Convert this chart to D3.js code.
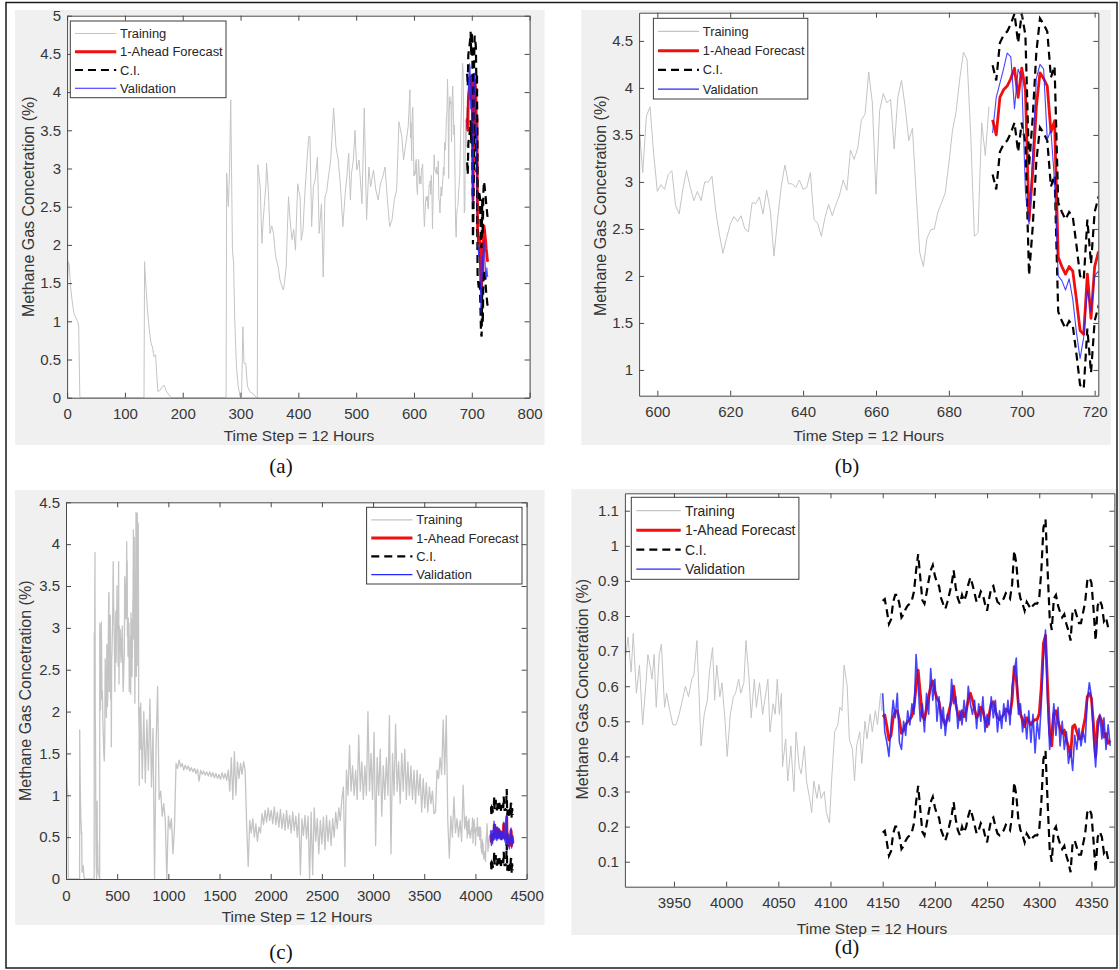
<!DOCTYPE html>
<html>
<head>
<meta charset="utf-8">
<script src="https://cdn.jsdelivr.net/npm/d3@7"></script>
<style>
  body { margin: 0; background: #ffffff; }
  svg { display: block; }
</style>
</head>
<body>
<svg id="chart" width="1119" height="970"></svg>
<script>
// ===================== DATA =====================
const legendLabels = ["Training", "1-Ahead Forecast", "C.I.", "Validation"];
const captions = ["(a)", "(b)", "(c)", "(d)"];
const xLabel = "Time Step = 12 Hours";
const yLabel = "Methane Gas Concetration (%)";

// Training, time steps 0-594 (step, value)
const trainEarlyPts = [[0,1.4],[2,1.78],[4,1.72],[6,1.45],[9,1.25],[12,1.1],[15,1.05],[18,1.0],[20,0.95],[22,0.02],[23,0],
[133,0],[134,1.78],[136,1.5],[139,1.15],[142,0.9],[145,0.72],[148,0.65],[150,0.54],[153,0.56],[157,0.08],[161,0.1],[165,0.15],[168,0.16],[172,0.08],[178,0.02],[180,0],
[275,0],[276,2.94],[278,2.6],[279,2.5],[281,3.0],[283,3.9],[285,2.6],[286,1.93],[288,1.76],[290,1.0],[293,0.4],[296,0.15],[299,0.02],[300,0],[302,0.1],[304,0.93],[306,0.45],[309,0.45],[312,0.15],[316,0.08],[322,0.05],[328,0],[329,0],
[330,3.05],[332,2.9],[334,2.76],[337,2.02],[339,2.3],[341,2.5],[344,2.8],[345,3.07],[348,2.72],[351,2.15],[354,2.25],[357,2.15],[360,1.9],[362,1.8],[364,1.75],[366,1.67],[368,1.55],[370,1.5],[372,1.45],[374,1.41],[376,1.5],[379,1.72],[381,2.2],[383,2.63],[386,2.3],[389,2.07],[392,2.2],[395,1.93],[397,2.4],[399,2.8],
[401,2.7],[403,2.63],[405,2.06],[408,2.19],[410,2.5],[412,2.76],[415,3.1],[418,3.42],[420,3.42],[423,2.24],[426,2.76],[429,2.85],[433,3.15],[436,2.15],[440,2.54],[443,1.58],[446,2.63],[449,2.7],[452,2.89],[456,3.11],[461,3.79],[465,3.29],[469,3.11],[473,2.76],[477,2.24],[481,2.67],[484,2.9],[487,3.2],[490,2.59],[492,2.94],[495,3.1],[498,3.5],
[501,2.98],[505,3.11],[510,2.54],[514,3.79],[518,2.33],[522,3.02],[525,2.76],[530,2.98],[534,2.72],[538,2.59],[542,2.8],[546,2.89],[550,3.02],[554,2.59],[558,2.24],[562,2.33],[566,2.59],[570,2.72],[574,3.61],[579,3.42],[582,3.11],[586,3.33],[590,3.55],[593,4.03],[594,3.4]];

// Training, one value per time step from 595 to 691
const trainLateStart = 595;
const trainLate = [3.6,3.1,3.7,3.8,3.3,2.9,2.97,2.92,3.08,3.12,
2.75,2.66,2.92,3.12,2.95,2.8,2.9,2.8,3.0,3.0,
3.06,2.7,2.45,2.24,2.4,2.55,2.63,2.58,2.64,2.5,
2.47,2.78,2.77,2.84,2.66,2.91,2.7,2.21,2.6,2.95,
3.18,2.98,2.98,2.94,3.02,2.92,2.94,3.1,2.6,2.56,
2.42,2.62,2.76,2.64,2.76,2.86,3.02,2.91,3.34,3.24,
3.36,3.66,3.72,4.17,3.84,2.87,3.76,3.94,3.84,3.88,
3.35,3.9,4.08,3.8,3.44,3.57,2.9,2.25,2.1,2.4,
2.49,2.5,2.68,2.78,2.88,3.2,3.55,3.75,4.1,4.38,
4.3,3.5,2.42,2.46,3.63,3.28,3.8];

// First forecast horizon (steps 692-728, one per step)
const fcAStart = 692;
const forecastA = [3.66,3.5,3.9,3.98,4.02,4.1,4.21,3.9,4.21,3.98,2.59,3.1,3.8,4.16,4.1,4.02,3.53,3.65,2.2,2.1,2.02,2.1,2.05,1.75,1.42,1.38,2.02,1.55,2.1,2.25,2.2,2.12,2.05,1.95,1.88,1.8,1.78];
const ciUpperA = [4.24,4.08,4.48,4.56,4.6,4.68,4.79,4.48,4.79,4.56,3.17,3.68,4.38,4.74,4.68,4.6,4.11,4.23,2.78,2.68,2.6,2.68,2.63,2.33,2.0,1.96,2.6,2.13,2.68,2.83,2.78,2.7,2.63,2.53,2.46,2.38,2.36];
const ciLowerA = [3.08,2.92,3.32,3.4,3.44,3.52,3.63,3.32,3.63,3.4,2.01,2.52,3.22,3.58,3.52,3.44,2.95,3.07,1.62,1.52,1.44,1.52,1.47,1.17,0.84,0.8,1.44,0.97,1.52,1.67,1.62,1.54,1.47,1.37,1.3,1.22,1.2];
const validationA = [3.52,3.9,4.05,4.2,4.37,4.33,3.78,4.2,4.1,2.9,2.55,3.3,4.1,4.25,4.2,3.45,3.55,3.0,2.0,1.95,1.85,1.97,1.75,1.4,1.12,1.35,1.85,1.62,2.0,2.05,1.95,1.75,1.62,1.55,1.7,1.6,1.58];

// Long training record, sampled every 15 steps from 730 to 3895
const trainMidStart = 730;
const trainMidStep = 15;
const trainMid = [2.1,1.2,2.0,1.15,1.9,1.3,2.15,1.1,1.8,0.0,1.6,2.3,0.95,1.05,0.75,0.9,0.7,0.0,0.75,0.6,0.72,0.3,0.62,
1.38,1.32,1.42,1.34,1.38,1.3,1.36,1.31,1.35,1.29,1.33,1.28,1.32,1.26,1.31,1.17,1.3,1.25,1.29,1.24,1.28,1.23,1.28,1.22,1.27,1.21,1.26,1.2,1.25,1.19,1.27,1.2,1.26,1.18,1.3,1.05,1.45,0.95,1.52,1.0,1.4,1.2,1.38,1.25,1.4,1.3,
0.65,0.15,0.7,0.55,0.72,0.5,0.66,0.45,0.62,0.55,0.78,0.65,0.82,0.68,0.85,0.7,0.82,0.66,0.86,0.65,0.8,0.62,0.83,0.6,0.78,0.58,0.82,0.6,0.76,0.55,0.8,0.58,0.75,0.5,0.78,0.05,0.72,0.52,0.76,0.48,0.75,0.0,0.8,0.05,0.85,0.45,0.72,0.3,0.7,0.42,0.74,0.35,0.76,0.45,0.7,0.4,0.72,0.5,0.8,0.6,0.85,0.7,
0.95,1.1,0.15,1.3,1.0,1.6,1.05,1.35,1.0,1.3,0.95,1.72,1.05,1.4,0.95,1.35,1.0,2.0,1.05,1.5,0.95,1.75,0.4,1.45,1.0,1.55,0.75,1.35,0.95,1.45,1.0,1.95,0.3,1.5,1.0,1.85,1.05,1.4,0.9,1.5,1.05,1.55,0.95,1.4,1.0,1.35,0.95,1.3,0.9,1.3,1.0,1.25,0.8,1.2,0.85,1.15,0.8,1.1,0.9,1.05,0.78,0.8,
1.3,1.2,1.45,1.25,1.9,1.25,1.95,0.7,0.25,0.75,0.5,0.98,0.55,0.72,0.5,0.7,0.45,1.12,0.6];

// Training, steps 3904-4149 (step, value)
const trainDPts = [[3904,0.69],[3906,0.74],[3909,0.64],[3911,0.75],[3914,0.58],[3917,0.66],[3920,0.49],[3923,0.6],[3925,0.69],[3927,0.66],[3929,0.62],[3931,0.69],[3933,0.54],[3936,0.69],[3938,0.72],[3941,0.54],[3943,0.58],[3946,0.53],[3949,0.49],[3952,0.49],[3955,0.52],[3958,0.56],[3961,0.6],[3964,0.57],[3967,0.62],[3969,0.63],[3972,0.73],[3974,0.58],[3976,0.43],[3979,0.52],[3982,0.56],[3984,0.64],[3987,0.71],[3989,0.56],[3991,0.66],[3994,0.57],[3996,0.61],[3999,0.5],
[4001,0.4],[4004,0.52],[4007,0.57],[4009,0.58],[4012,0.62],[4014,0.58],[4017,0.61],[4019,0.73],[4022,0.62],[4024,0.51],[4027,0.62],[4029,0.54],[4032,0.61],[4035,0.52],[4037,0.56],[4040,0.62],[4042,0.47],[4045,0.55],[4047,0.52],[4049,0.62],[4051,0.52],[4053,0.58],[4054,0.37],[4057,0.45],[4059,0.33],[4062,0.43],[4065,0.3],[4067,0.47],[4070,0.37],[4072,0.35],[4075,0.43],[4077,0.33],[4080,0.28],[4082,0.24],[4084,0.33],[4087,0.28],[4089,0.32],[4091,0.28],[4094,0.3],[4096,0.24],[4099,0.21],
[4101,0.33],[4104,0.47],[4107,0.49],[4109,0.54],[4111,0.53],[4113,0.66],[4116,0.6],[4118,0.45],[4121,0.42],[4123,0.33],[4125,0.43],[4128,0.47],[4130,0.38],[4133,0.5],[4135,0.45],[4138,0.52],[4140,0.47],[4143,0.53],[4145,0.49],[4148,0.58],[4149,0.53]];

// Second forecast horizon (steps 4150-4368, every 2 steps)
const fcDStart = 4150;
const fcDStep = 2;
const forecastD = [0.513,0.518,0.485,0.447,0.46,0.51,0.53,0.53,0.504,0.466,
0.475,0.49,0.5,0.505,0.515,0.54,0.6,0.646,0.58,0.515,
0.505,0.535,0.57,0.6,0.615,0.585,0.565,0.555,0.52,0.504,
0.49,0.51,0.535,0.56,0.6,0.55,0.52,0.505,0.53,0.513,
0.53,0.56,0.58,0.56,0.535,0.51,0.52,0.54,0.53,0.505,
0.485,0.52,0.55,0.556,0.53,0.51,0.505,0.512,0.52,0.535,
0.53,0.52,0.56,0.656,0.62,0.55,0.52,0.505,0.485,0.51,
0.5,0.49,0.5,0.505,0.505,0.522,0.6,0.722,0.745,0.6,
0.466,0.43,0.52,0.53,0.5,0.48,0.466,0.475,0.447,0.428,
0.40,0.485,0.49,0.47,0.45,0.45,0.48,0.51,0.57,0.58,
0.565,0.49,0.40,0.5,0.515,0.5,0.455,0.465,0.437,0.445];
const ciUpperD = [0.843,0.848,0.815,0.777,0.79,0.84,0.86,0.86,0.834,0.796,
0.805,0.82,0.83,0.835,0.845,0.87,0.93,0.976,0.91,0.845,
0.835,0.865,0.9,0.93,0.945,0.915,0.895,0.885,0.85,0.834,
0.82,0.84,0.865,0.89,0.93,0.88,0.85,0.835,0.86,0.843,
0.86,0.89,0.91,0.89,0.865,0.84,0.85,0.87,0.86,0.835,
0.815,0.85,0.88,0.886,0.86,0.84,0.835,0.842,0.85,0.865,
0.86,0.85,0.89,0.986,0.95,0.88,0.85,0.835,0.815,0.84,
0.83,0.82,0.83,0.835,0.835,0.852,0.93,1.052,1.075,0.93,
0.796,0.76,0.85,0.86,0.83,0.81,0.796,0.805,0.777,0.758,
0.73,0.815,0.82,0.8,0.78,0.78,0.81,0.84,0.9,0.91,
0.895,0.82,0.73,0.83,0.845,0.83,0.785,0.795,0.767,0.775];
const ciLowerD = [0.183,0.188,0.155,0.117,0.13,0.18,0.2,0.2,0.174,0.136,
0.145,0.16,0.17,0.175,0.185,0.21,0.27,0.316,0.25,0.185,
0.175,0.205,0.24,0.27,0.285,0.255,0.235,0.225,0.19,0.174,
0.16,0.18,0.205,0.23,0.27,0.22,0.19,0.175,0.2,0.183,
0.2,0.23,0.25,0.23,0.205,0.18,0.19,0.21,0.2,0.175,
0.155,0.19,0.22,0.226,0.2,0.18,0.175,0.182,0.19,0.205,
0.2,0.19,0.23,0.326,0.29,0.22,0.19,0.175,0.155,0.18,
0.17,0.16,0.17,0.175,0.175,0.192,0.27,0.392,0.415,0.27,
0.136,0.1,0.19,0.2,0.17,0.15,0.136,0.145,0.117,0.098,
0.07,0.155,0.16,0.14,0.12,0.12,0.15,0.18,0.24,0.25,
0.235,0.16,0.07,0.17,0.185,0.17,0.125,0.135,0.107,0.115];
const validationD = [0.58,0.47,0.44,0.4,0.49,0.56,0.51,0.58,0.44,0.42,
0.5,0.46,0.53,0.49,0.55,0.52,0.69,0.6,0.5,0.55,
0.47,0.58,0.52,0.65,0.56,0.62,0.5,0.57,0.48,0.54,
0.46,0.52,0.5,0.62,0.55,0.57,0.48,0.53,0.49,0.56,
0.5,0.6,0.55,0.52,0.56,0.48,0.55,0.5,0.57,0.47,
0.52,0.49,0.57,0.51,0.56,0.47,0.53,0.48,0.55,0.5,
0.56,0.49,0.6,0.64,0.68,0.52,0.55,0.47,0.52,0.45,
0.53,0.44,0.52,0.41,0.5,0.45,0.55,0.68,0.76,0.55,
0.42,0.48,0.55,0.46,0.54,0.43,0.5,0.42,0.47,0.38,
0.42,0.36,0.46,0.42,0.48,0.43,0.47,0.44,0.56,0.61,
0.57,0.45,0.37,0.47,0.52,0.45,0.51,0.42,0.49,0.43];

// Tick values
const xTicksA = [0,100,200,300,400,500,600,700,800];
const yTicksA = [0,0.5,1,1.5,2,2.5,3,3.5,4,4.5,5];
const xTicksB = [600,620,640,660,680,700,720];
const yTicksB = [1,1.5,2,2.5,3,3.5,4,4.5];
const xTicksC = [0,500,1000,1500,2000,2500,3000,3500,4000,4500];
const yTicksC = [0,0.5,1,1.5,2,2.5,3,3.5,4,4.5];
const xTicksD = [3950,4000,4050,4100,4150,4200,4250,4300,4350];
const yTicksD = [0.1,0.2,0.3,0.4,0.5,0.6,0.7,0.8,0.9,1,1.1];

// ===================== BUILD SERIES =====================
const seq = (arr, start, step) => arr.map((v, i) => [start + i * step, v]);
const trainingAB = trainEarlyPts.concat(seq(trainLate, trainLateStart, 1));
const trainingCD = trainingAB.concat(seq(validationA, fcAStart, 1), seq(trainMid, trainMidStart, trainMidStep), trainDPts);
const seriesAB = {
  training: trainingAB,
  forecast: seq(forecastA, fcAStart, 1),
  ciU: seq(ciUpperA, fcAStart, 1),
  ciL: seq(ciLowerA, fcAStart, 1),
  valid: seq(validationA, fcAStart, 1)
};
const seriesCD = {
  training: trainingCD,
  forecast: seq(forecastD, fcDStart, fcDStep),
  ciU: seq(ciUpperD, fcDStart, fcDStep),
  ciL: seq(ciLowerD, fcDStart, fcDStep),
  valid: seq(validationD, fcDStart, fcDStep)
};

// ===================== STYLE =====================
const COL = { training: "#c4c4c4", forecast: "#f20f0f", ci: "#000000", valid: "#2424ff" };
const SANS = "'Liberation Sans', Arial, Helvetica, sans-serif";
const SERIF = "'Liberation Serif', 'Times New Roman', serif";
const AXIS_COL = "#4a4a4a";
const TEXT_COL = "#363636";

const svg = d3.select("#chart");
svg.append("rect").attr("x", 0).attr("y", 0).attr("width", 1119).attr("height", 970).attr("fill", "#fff");

const panels = [
  { id: "a", s: seriesAB, bg: [15, 10, 529.6, 435], l: 67.1, r: 529.6, t: 15.7, b: 397.7,
    xDomain: [0, 800], yDomain: [0, 5], xTicks: xTicksA, yTicks: yTicksA, trainW: 1, validW: 1.1,
    legend: { x: 70.3, y: 21, w: 155.7, h: 76.7 }, yl: [28.6, 206.7], xl: [299, 436], cap: [281, 466], capText: captions[0] },
  { id: "b", s: seriesAB, bg: [581.4, 10, 529.4, 435], l: 639.1, r: 1098.3, t: 12.7, b: 395.7,
    xDomain: [595, 721], yDomain: [0.726, 4.8], xTicks: xTicksB, yTicks: yTicksB, trainW: 1, validW: 1.1,
    legend: { x: 653.4, y: 18.3, w: 154.4, h: 80.7 }, yl: [600, 205.8], xl: [868.7, 436], cap: [847, 466], capText: captions[1] },
  { id: "c", s: seriesCD, bg: [15, 490, 529.6, 435], l: 66, r: 526.6, t: 502.3, b: 879,
    xDomain: [0, 4500], yDomain: [0, 4.5], xTicks: xTicksC, yTicks: yTicksC, trainW: 1.3, validW: 1.4,
    legend: { x: 366.6, y: 507.3, w: 155.4, h: 76.7 }, yl: [25.7, 690.8], xl: [297, 916.7], cap: [281, 952], capText: captions[2] },
  { id: "d", s: seriesCD, bg: [571.4, 489.3, 547.6, 445.7], l: 624.9, r: 1114.4, t: 493.3, b: 886.7,
    xDomain: [3903, 4372], yDomain: [0.0288, 1.1496], xTicks: xTicksD, yTicks: yTicksD, trainW: 1, validW: 1.6,
    legend: { x: 631.3, y: 497.3, w: 167.6, h: 82 }, yl: [582, 689.2], xl: [872, 928.3], cap: [847, 947], capText: captions[3] }
];

const fmt = d3.format("~g");

function styleAxis(sel, showLabels) {
  sel.select(".domain").attr("stroke", AXIS_COL).attr("stroke-width", 1);
  sel.selectAll(".tick line").attr("stroke", AXIS_COL).attr("stroke-width", 1);
  sel.selectAll(".tick text").attr("fill", TEXT_COL).attr("font-family", SANS).attr("font-size", 15);
  if (!showLabels) sel.selectAll(".tick text").remove();
}

function drawPanel(p) {
  const g = svg.append("g");
  g.append("rect").attr("x", p.bg[0]).attr("y", p.bg[1]).attr("width", p.bg[2]).attr("height", p.bg[3]).attr("fill", "#f0f0f0");
  g.append("rect").attr("x", p.l).attr("y", p.t).attr("width", p.r - p.l).attr("height", p.b - p.t).attr("fill", "#ffffff");

  const x = d3.scaleLinear().domain(p.xDomain).range([p.l, p.r]);
  const y = d3.scaleLinear().domain(p.yDomain).range([p.b, p.t]);

  const clipId = "clip-" + p.id;
  g.append("clipPath").attr("id", clipId).append("rect")
    .attr("x", p.l).attr("y", p.t).attr("width", p.r - p.l).attr("height", p.b - p.t);
  const plot = g.append("g").attr("clip-path", `url(#${clipId})`);
  const line = d3.line().x(d => x(d[0])).y(d => y(d[1]));

  plot.append("path").datum(p.s.training).attr("d", line).attr("fill", "none")
    .attr("stroke", COL.training).attr("stroke-width", p.trainW).attr("stroke-linejoin", "round");
  plot.append("path").datum(p.s.forecast).attr("d", line).attr("fill", "none")
    .attr("stroke", COL.forecast).attr("stroke-width", 2.8).attr("stroke-linejoin", "round");
  [p.s.ciU, p.s.ciL].forEach(d => {
    plot.append("path").datum(d).attr("d", line).attr("fill", "none")
      .attr("stroke", COL.ci).attr("stroke-width", 2.2).attr("stroke-dasharray", "8,5");
  });
  plot.append("path").datum(p.s.valid).attr("d", line).attr("fill", "none")
    .attr("stroke", COL.valid).attr("stroke-width", p.validW).attr("stroke-opacity", 0.85).attr("stroke-linejoin", "round");

  // axes (ticks inward on all four sides)
  const bottom = g.append("g").attr("transform", `translate(0,${p.b})`)
    .call(d3.axisBottom(x).tickValues(p.xTicks).tickFormat(fmt).tickSizeInner(-5).tickSizeOuter(0).tickPadding(11));
  styleAxis(bottom, true);
  const top = g.append("g").attr("transform", `translate(0,${p.t})`)
    .call(d3.axisTop(x).tickValues(p.xTicks).tickFormat("").tickSizeInner(-5).tickSizeOuter(0));
  styleAxis(top, false);
  const left = g.append("g").attr("transform", `translate(${p.l},0)`)
    .call(d3.axisLeft(y).tickValues(p.yTicks).tickFormat(fmt).tickSizeInner(-5).tickSizeOuter(0).tickPadding(6));
  styleAxis(left, true);
  const right = g.append("g").attr("transform", `translate(${p.r},0)`)
    .call(d3.axisRight(y).tickValues(p.yTicks).tickFormat("").tickSizeInner(-5).tickSizeOuter(0));
  styleAxis(right, false);

  // axis labels
  g.append("text").attr("x", p.xl[0]).attr("y", p.xl[1]).attr("text-anchor", "middle").attr("dy", "0.35em")
    .attr("font-family", SANS).attr("font-size", 15.5).attr("fill", TEXT_COL).text(xLabel);
  g.append("text").attr("transform", `translate(${p.yl[0]},${p.yl[1]}) rotate(-90)`).attr("text-anchor", "middle").attr("dy", "0.35em")
    .attr("font-family", SANS).attr("font-size", 16).attr("fill", TEXT_COL).text(yLabel);

  // legend
  const L = p.legend;
  const lg = g.append("g");
  lg.append("rect").attr("x", L.x).attr("y", L.y).attr("width", L.w).attr("height", L.h)
    .attr("fill", "#ffffff").attr("stroke", "#3c3c3c").attr("stroke-width", 1);
  const lfs = L.w * 0.083;
  const styles = [
    { c: COL.training, w: 1.2, dash: null },
    { c: COL.forecast, w: 3, dash: null },
    { c: COL.ci, w: 2.2, dash: "8,5" },
    { c: COL.valid, w: 1.2, dash: null }
  ];
  legendLabels.forEach((name, i) => {
    const cy = L.y + L.h * (0.163 + 0.238 * i);
    const ln = lg.append("line").attr("x1", L.x + L.w * 0.03).attr("x2", L.x + L.w * 0.295)
      .attr("y1", cy).attr("y2", cy).attr("stroke", styles[i].c).attr("stroke-width", styles[i].w);
    if (styles[i].dash) ln.attr("stroke-dasharray", styles[i].dash);
    lg.append("text").attr("x", L.x + L.w * 0.32).attr("y", cy).attr("dy", "0.35em")
      .attr("font-family", SANS).attr("font-size", lfs).attr("fill", "#262626").text(name);
  });

  // caption
  svg.append("text").attr("x", p.cap[0]).attr("y", p.cap[1]).attr("text-anchor", "middle").attr("dy", "0.35em")
    .attr("font-family", SERIF).attr("font-size", 21).attr("fill", "#111").text(p.capText);
}

panels.forEach(drawPanel);

// outer frame
svg.append("rect").attr("x", 6).attr("y", 2.5).attr("width", 1111).attr("height", 965.5)
  .attr("fill", "none").attr("stroke", "#1a1a1a").attr("stroke-width", 1.5);
</script>
</body>
</html>
